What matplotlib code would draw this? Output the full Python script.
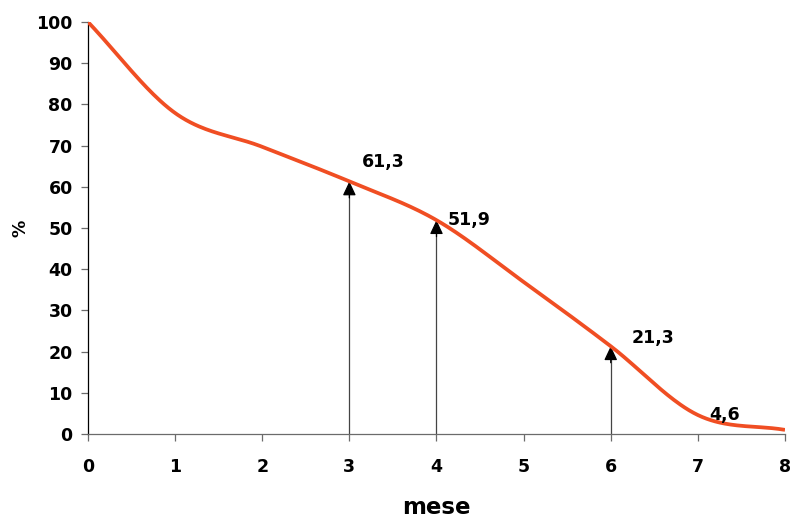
import matplotlib
matplotlib.use("Agg")
import matplotlib.pyplot as plt
import numpy as np

# monthly survival (%)
months = [0, 1, 2, 3, 4, 5, 6, 7, 8]
values = [100, 77.9, 69.7, 61.3, 51.9, 36.9, 21.3, 4.6, 1.0]

# months marked with an arrow, and the labelled ones
arrow_months = [3, 4, 6]
label_months = [3, 4, 6, 7]
label_offsets = [(13, 19), (11, 0), (21, 8), (11, 0)]  # pixels

line_color = "#f04e23"
axis_gray = "#6b6b6b"


def smooth(xs, ys, n=40):
    # Catmull-Rom through the points, like a spreadsheet "smoothed line"
    xs = np.asarray(xs, float)
    ys = np.asarray(ys, float)
    px = np.concatenate([[2 * xs[0] - xs[1]], xs, [2 * xs[-1] - xs[-2]]])
    py = np.concatenate([[2 * ys[0] - ys[1]], ys, [2 * ys[-1] - ys[-2]]])
    ox, oy = [], []
    t = np.linspace(0, 1, n, endpoint=False)
    for i in range(1, len(px) - 2):
        for p, out in ((px, ox), (py, oy)):
            p0, p1, p2, p3 = p[i - 1], p[i], p[i + 1], p[i + 2]
            out.extend(0.5 * (2 * p1 + (-p0 + p2) * t
                              + (2 * p0 - 5 * p1 + 4 * p2 - p3) * t ** 2
                              + (-p0 + 3 * p1 - 3 * p2 + p3) * t ** 3))
    ox.append(xs[-1])
    oy.append(ys[-1])
    return np.array(ox), np.array(oy)


fig = plt.figure(figsize=(7.95, 5.21), dpi=100)
ax = fig.add_axes([0.1107, 0.167, 0.8767, 0.7908])

sx, sy = smooth(months, values)
ax.plot(sx, sy, color=line_color, lw=2.7, solid_capstyle="butt", zorder=3)

for m in arrow_months:
    v = values[months.index(m)]
    ax.vlines(m, 0, v - 2, color="#444444", lw=0.9, zorder=2)
    ax.annotate("", xy=(m, v), xytext=(m, v - 4),
                arrowprops=dict(arrowstyle="-|>,head_length=0.85,head_width=0.4",
                                color="black", lw=0.9, shrinkA=0, shrinkB=0),
                zorder=2)

for m, (dx, dy) in zip(label_months, label_offsets):
    v = values[months.index(m)]
    ax.annotate(f"{v:.1f}".replace(".", ","), xy=(m, v), xytext=(dx, dy),
                textcoords="offset pixels", ha="left", va="center",
                fontsize=12.5, fontweight="bold", zorder=4)

ax.set_xlim(0, 8)
ax.set_ylim(0, 100)
ax.set_xticks(range(0, 9))
ax.set_yticks(range(0, 101, 10))

for s in ("top", "right"):
    ax.spines[s].set_visible(False)
ax.spines["left"].set_color("black")
ax.spines["bottom"].set_color(axis_gray)
ax.spines["left"].set_linewidth(0.9)
ax.spines["bottom"].set_linewidth(0.9)
ax.tick_params(axis="both", direction="out", length=5, width=0.9, color=axis_gray,
               labelsize=12.5)
ax.tick_params(axis="x", pad=12)
ax.tick_params(axis="y", pad=6)
for lab in ax.get_xticklabels() + ax.get_yticklabels():
    lab.set_fontweight("bold")

ax.set_xlabel("mese", fontsize=16.5, fontweight="bold", labelpad=15)
ax.set_ylabel("%", fontsize=12.5, fontweight="bold", labelpad=5)

fig.savefig("out.png", dpi=100)
